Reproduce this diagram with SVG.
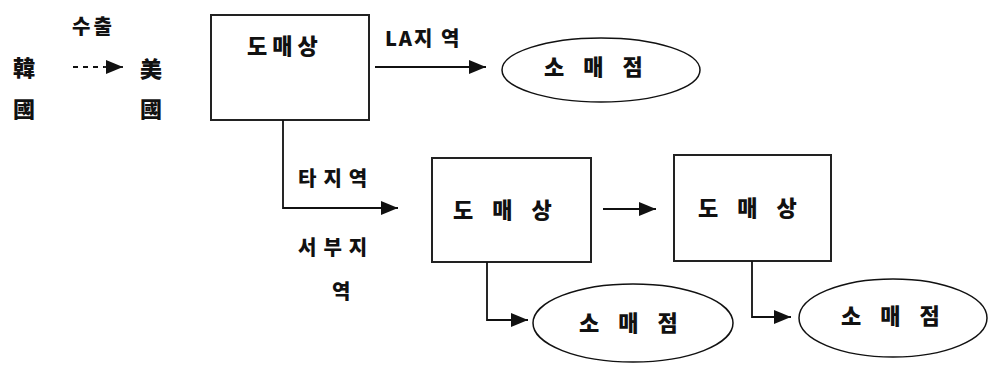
<svg xmlns="http://www.w3.org/2000/svg" width="988" height="365" viewBox="0 0 988 365">
  <style>
    .box { fill: #fff; stroke: #222; stroke-width: 2; }
    .oval { fill: #fff; stroke: #111; stroke-width: 1.5; }
    .line { fill: none; stroke: #111; stroke-width: 1.8; }
    .t { font-family: "Noto Sans CJK KR", "Noto Sans", sans-serif; font-weight: 900; fill: #111; }
    .lbl { font-size: 22px; }
    .sm { font-size: 20px; }
    .han { font-size: 22px; }
  </style>
  <defs>
    <marker id="head" markerWidth="17" markerHeight="14" refX="17" refY="7" orient="auto" markerUnits="userSpaceOnUse">
      <path d="M0,0 L17,7 L0,14 Z" fill="#111"/>
    </marker>
  </defs>
  <rect width="988" height="365" fill="#fff"/>

  <!-- export label: Korea to US -->
  <g id="export">
    <text class="t sm" x="72" y="34" letter-spacing="3">수출</text>
    <text class="t han" x="13" y="76">韓</text>
    <text class="t han" x="13" y="117">國</text>
    <text class="t han" x="140" y="77">美</text>
    <text class="t han" x="140" y="117">國</text>
    <path class="line" d="M73,67 H104" stroke-dasharray="5,5"/>
    <path class="line" d="M104,67 H123" marker-end="url(#head)"/>
  </g>

  <!-- wholesalers -->
  <g id="wholesaler1">
    <rect class="box" x="211" y="15" width="158" height="105"/>
    <text class="t lbl" x="247" y="54" letter-spacing="5">도매상</text>
  </g>
  <g id="wholesaler2">
    <rect class="box" x="432" y="158" width="159" height="104"/>
    <text class="t lbl" x="453" y="218" word-spacing="14">도 매 상</text>
  </g>
  <g id="wholesaler3">
    <rect class="box" x="674" y="155" width="157" height="106"/>
    <text class="t lbl" x="698" y="216" word-spacing="14">도 매 상</text>
  </g>

  <!-- retailers -->
  <g id="retailer1">
    <ellipse class="oval" cx="601" cy="70" rx="99" ry="32"/>
    <text class="t lbl" x="544" y="75" word-spacing="14">소 매 점</text>
  </g>
  <g id="retailer2">
    <ellipse class="oval" cx="633" cy="323" rx="100" ry="39"/>
    <text class="t lbl" x="579" y="331" word-spacing="14">소 매 점</text>
  </g>
  <g id="retailer3">
    <ellipse class="oval" cx="893" cy="318" rx="94" ry="39"/>
    <text class="t lbl" x="841" y="324" word-spacing="14">소 매 점</text>
  </g>

  <!-- region labels -->
  <g id="labels">
    <text class="t sm" x="385" y="46" letter-spacing="2">LA지 역</text>
    <text class="t sm" x="298" y="186" letter-spacing="7">타지역</text>
    <text class="t sm" x="298" y="255" letter-spacing="7">서부지</text>
    <text class="t sm" x="332" y="299">역</text>
  </g>

  <!-- connectors -->
  <g id="connectors">
    <path class="line" d="M375,67 H486" marker-end="url(#head)"/>
    <path class="line" d="M283,120 V208 H398" marker-end="url(#head)"/>
    <path class="line" d="M603,209 H656" marker-end="url(#head)"/>
    <path class="line" d="M487,262 V320 H528" marker-end="url(#head)"/>
    <path class="line" d="M752,261 V317 H791" marker-end="url(#head)"/>
  </g>
</svg>
